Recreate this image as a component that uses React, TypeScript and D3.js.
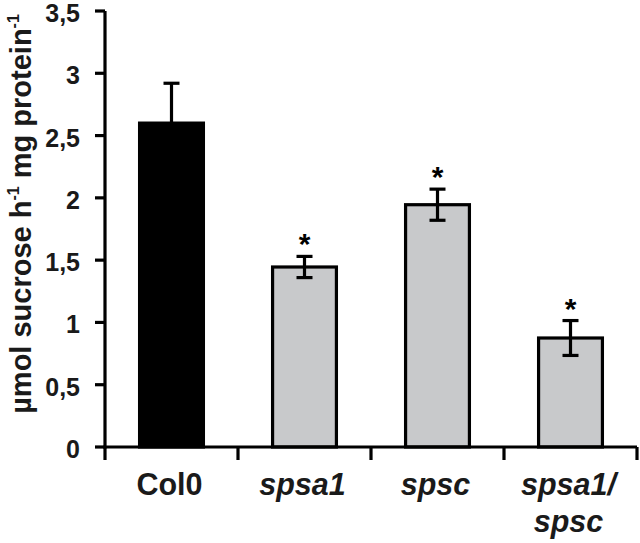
import React from "react";
import * as d3 from "d3";

const categories = ["Col0", "spsa1", "spsc", "spsa1/spsc"];
const labelLines = [["Col0"], ["spsa1"], ["spsc"], ["spsa1/", "spsc"]];
const italic = [false, true, true, true];
const values = [2.6, 1.445, 1.945, 0.875];
const errors = [0.32, 0.085, 0.125, 0.14];
const significant = [false, true, true, true];
const fills = ["#000000", "#c8c9cb", "#c8c9cb", "#c8c9cb"];
const yTicks = [0, 0.5, 1, 1.5, 2, 2.5, 3, 3.5];
const yTickLabels = ["0", "0,5", "1", "1,5", "2", "2,5", "3", "3,5"];

const W = 640, H = 543;
const left = 105, right = 637, top = 11, bottom = 447;
const font = "'Liberation Sans', Arial, sans-serif";

export default function App() {
  const x = d3.scaleBand<string>().domain(categories).range([left, right]).paddingInner(0.52).paddingOuter(0.26);
  const y = d3.scaleLinear().domain([0, 3.5]).range([bottom, top]);
  const step = x.step();
  const bw = x.bandwidth();
  const boundaries = d3.range(categories.length + 1).map((i) => left + i * step);
  return (
    <svg width={W} height={H} style={{ position: "absolute", left: 0, top: 0, background: "#fff" }} fontFamily={font}>
      {/* bars */}
      {categories.map((c, i) => (
        <rect key={c} x={x(c)!} y={y(values[i])} width={bw} height={y(0) - y(values[i])}
          fill={fills[i]} stroke="#000" strokeWidth={3.2} />
      ))}
      {/* error bars */}
      {categories.map((c, i) => {
        const cx = x(c)! + bw / 2;
        const hi = y(values[i] + errors[i]);
        const lo = y(values[i] - errors[i]);
        const showLo = fills[i] !== "#000000";
        return (
          <g key={"e" + c} stroke="#000" strokeWidth={3.2}>
            <line x1={cx} x2={cx} y1={hi} y2={showLo ? lo : y(values[i])} />
            <line x1={cx - 8} x2={cx + 8} y1={hi} y2={hi} />
            {showLo && <line x1={cx - 8} x2={cx + 8} y1={lo} y2={lo} />}
          </g>
        );
      })}
      {/* asterisks */}
      {categories.map((c, i) =>
        significant[i] ? (
          <text key={"s" + c} x={x(c)! + bw / 2} y={y(values[i] + errors[i]) - 2} textAnchor="middle"
            fontSize={30} fontWeight="bold" fill="#000">*</text>
        ) : null
      )}
      {/* y axis */}
      <line x1={left} x2={left} y1={top} y2={bottom + 1.5} stroke="#000" strokeWidth={3.2} />
      {yTicks.map((t, i) => (
        <g key={"t" + t}>
          <line x1={left - 10} x2={left} y1={y(t)} y2={y(t)} stroke="#000" strokeWidth={3.2} />
          <text x={80} y={y(t)} dy="0.44em" textAnchor="end" fontSize={25} fontWeight="bold" fill="#1a1a1a">
            {yTickLabels[i]}
          </text>
        </g>
      ))}
      {/* x axis */}
      <line x1={left - 1.5} x2={right} y1={bottom} y2={bottom} stroke="#000" strokeWidth={3.2} />
      {boundaries.map((bx, i) => (
        <line key={"b" + i} x1={bx} x2={bx} y1={bottom} y2={bottom + 13} stroke="#000" strokeWidth={3.2} />
      ))}
      {categories.map((c, i) => (
        <text key={"l" + c} x={x(c)! + bw / 2 - 2} y={495} textAnchor="middle" fontSize={30.5} fontWeight="bold"
          fontStyle={italic[i] ? "italic" : "normal"} fill="#1a1a1a">
          {labelLines[i].map((ln, j) => (
            <tspan key={j} x={x(c)! + bw / 2 - 2} dy={j === 0 ? 0 : 37}>{ln}</tspan>
          ))}
        </text>
      ))}
      {/* y label */}
      <text transform={`translate(31, ${(6 + 422) / 2}) rotate(-90)`} textAnchor="middle" fontSize={29}
        fontWeight="bold" fill="#1a1a1a">
        µmol sucrose h<tspan fontSize={16} dy={-12}>-1</tspan><tspan dy={12}> mg protein</tspan>
        <tspan fontSize={16} dy={-12}>-1</tspan>
      </text>
    </svg>
  );
}
